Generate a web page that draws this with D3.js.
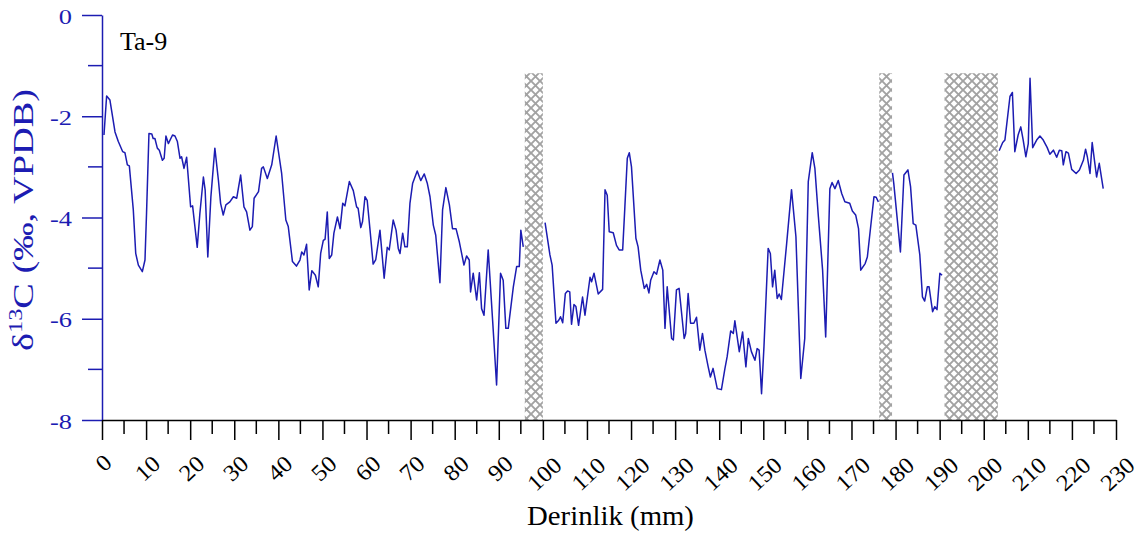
<!DOCTYPE html>
<html>
<head>
<meta charset="utf-8">
<script src="https://cdn.jsdelivr.net/npm/d3@7"></script>
<style>
  body { margin: 0; background: #fff; }
  svg { display: block; }
</style>
</head>
<body>
<div id="chart"></div>
<script>
// depth (mm) and d13C values, null = break in the record (hatched gap)
const depthMm = [
    0.45, 1.05, 1.8, 2.95, 3.7, 4.7, 5.2, 5.75, 6.2, 7.1, 7.65, 8.25, 9.15, 9.75,
    10.1, 10.65, 11.3, 11.6, 12.0, 12.55, 13.0, 13.7, 14.1, 14.5, 15.05, 16.0, 16.55,
    17.1, 17.7, 18.05, 18.6, 19.2, 20.1, 20.55, 21.6, 22.2, 23.0, 23.4, 24.0, 24.7,
    25.6, 26.4, 26.9, 27.5, 28.1, 29.0, 29.8, 30.55, 31.45, 32.2, 32.8, 33.55, 34.1,
    34.5, 35.5, 36.2, 36.6, 37.5, 38.5, 39.5, 40.75, 41.7, 42.25, 43.2, 44.1, 44.9,
    45.3, 45.8, 46.4, 47.0, 47.6, 48.4, 49.05, 49.6, 50.2, 50.6, 51.1, 51.55, 52.1,
    52.6, 53.4, 54.0, 54.6, 55.1, 56.1, 57.0, 57.75, 58.1, 58.7, 59.1, 59.65, 60.15,
    60.8, 61.5, 62.1, 63.05, 64.0, 64.7, 65.15, 66.05, 66.7, 67.2, 67.6, 68.2, 68.7,
    69.25, 69.85, 70.45, 71.5, 72.3, 73.1, 73.8, 74.4, 75.15, 75.7, 76.65, 77.25,
    78.0, 78.8, 79.5, 80.3, 81.05, 82.1, 82.7, 83.3, 83.6, 84.2, 84.98, 85.6, 86.1,
    86.65, 87.6, 88.6, 89.5, 90.4, 91.0, 91.6, 92.15, 93.3, 94.05, 94.65, 95.0, 95.55,
    null,
    100.5, 101.6, 102.1, 102.97, 103.6, 104.0, 104.5, 105.1, 105.6, 106.1, 106.5,
    107.05, 107.5, 108.1, 109.0, 109.55, 110.7, 111.05, 111.6, 112.55, 113.55, 114.1,
    114.6, 115.05, 115.96, 116.7, 117.3, 118.1, 118.6, 119.15, 119.6, 120.1, 121.1,
    121.6, 122.2, 123.0, 123.55, 124.05, 124.45, 125.2, 125.8, 126.55, 127.2, 127.7,
    128.2, 129.2, 129.6, 130.3, 130.9, 132.05, 132.4, 132.95, 133.5, 134.25, 134.85,
    135.6, 136.2, 136.75, 137.5, 138.0, 138.6, 139.55, 140.5, 141.3, 141.8, 142.6,
    143.2, 143.55, 144.55, 145.3, 146.05, 146.6, 147.3, 148.1, 148.6, 149.05, 149.6,
    150.15, 151.1, 151.6, 152.1, 152.6, 153.15, 153.6, 154.1, 155.3, 156.4, 157.4,
    158.5, 159.4, 160.2, 161.1, 161.7, 162.5, 163.45, 164.15, 165.1, 165.6, 166.25,
    167.0, 167.8, 168.5, 169.6, 170.2, 170.95, 171.6, 172.1, 173.1, 173.6, 175.1,
    175.6, 176.1,
    null,
    179.3, 179.6, 181.1, 181.9, 182.8, 183.4, 184.0, 184.6, 185.5, 186.1, 186.6,
    187.2, 187.6, 188.4, 188.9, 189.4, 190.05, 190.55,
    null,
    203.5, 204.3, 204.8, 205.95, 206.5, 207.05, 207.8, 208.4, 208.95, 209.55, 210.1,
    210.5, 211.1, 212.0, 212.75, 213.5, 214.4, 215.0, 215.8, 216.55, 217.15, 217.7,
    218.05, 218.65, 219.2, 219.95, 220.95, 221.7, 222.6, 223.1, 223.5, 224.1, 224.6,
    225.2, 225.6, 226.2, 227.1
];

const d13C = [
    -2.37, -1.60, -1.68, -2.31, -2.50, -2.70, -2.72, -2.96, -2.98, -3.85, -4.71, -4.94, -5.07, -4.84,
    -3.92, -2.34, -2.35, -2.44, -2.44, -2.63, -2.67, -2.87, -2.83, -2.39, -2.54, -2.37, -2.39,
    -2.50, -2.83, -2.80, -3.03, -2.81, -3.79, -3.77, -4.59, -3.92, -3.20, -3.46, -4.78, -3.59,
    -2.63, -3.26, -3.72, -3.95, -3.75, -3.69, -3.59, -3.62, -3.16, -3.79, -3.89, -4.25, -4.18,
    -3.62, -3.49, -3.03, -3.00, -3.23, -2.96, -2.39, -3.13, -4.05, -4.18, -4.87, -4.96, -4.84,
    -4.68, -4.74, -4.53, -5.43, -5.05, -5.14, -5.37, -4.71, -4.45, -4.43, -3.89, -4.81, -4.74,
    -4.31, -3.99, -4.22, -3.72, -3.77, -3.29, -3.47, -3.79, -3.82, -4.20, -4.08, -3.59, -3.66,
    -4.25, -4.92, -4.83, -4.25, -5.20, -4.59, -4.64, -4.05, -4.25, -4.61, -4.71, -4.31, -4.58,
    -4.58, -3.72, -3.33, -3.08, -3.27, -3.14, -3.33, -3.59, -4.15, -4.35, -5.29, -3.85,
    -3.41, -3.75, -4.22, -4.22, -4.48, -4.94, -4.76, -4.84, -5.47, -5.10, -5.63, -5.09, -5.80,
    -5.93, -4.64, -6.03, -7.31, -5.10, -5.24, -6.19, -6.19, -5.37, -4.97, -4.97, -4.25, -4.58,
    null,
    -4.10, -4.74, -4.94, -6.09, -6.03, -5.96, -6.08, -5.50, -5.45, -5.47, -6.11,
    -5.72, -5.76, -6.13, -5.57, -5.93, -5.18, -5.27, -5.10, -5.51, -5.42, -3.45,
    -3.56, -4.28, -4.30, -4.55, -4.64, -4.64, -3.79, -2.83, -2.72, -3.00, -4.41,
    -4.58, -5.04, -5.40, -5.32, -5.49, -5.24, -5.07, -5.12, -4.84, -5.04, -6.19,
    -5.37, -6.39, -6.42, -5.43, -5.40, -6.39, -6.29, -5.50, -6.09, -6.09, -5.97,
    -6.62, -6.29, -6.62, -6.95, -7.15, -6.98, -7.38, -7.40, -6.98, -6.75, -6.24,
    -6.29, -6.04, -6.65, -6.26, -6.95, -6.39, -6.65, -6.82, -6.59, -6.62, -7.48,
    -6.55, -4.61, -4.71, -5.37, -5.04, -5.60, -5.51, -5.62, -4.51, -3.45, -4.38,
    -7.18, -6.39, -3.29, -2.72, -3.03, -3.99, -5.04, -6.36, -3.43, -3.31, -3.43,
    -3.27, -3.53, -3.69, -3.72, -3.87, -3.95, -4.22, -5.04, -4.91, -4.78, -3.59,
    -3.60, -3.69,
    null,
    -3.12, -3.33, -4.68, -3.16, -3.06, -3.39, -4.12, -4.15, -4.74, -5.57, -5.65,
    -5.37, -5.37, -5.86, -5.76, -5.82, -5.10, -5.14,
    null,
    -2.68, -2.52, -2.47, -1.61, -1.53, -2.70, -2.37, -2.21, -2.47, -2.80, -2.54,
    -1.25, -2.62, -2.47, -2.39, -2.47, -2.62, -2.75, -2.67, -2.81, -2.67, -2.68,
    -2.96, -2.70, -2.73, -3.05, -3.13, -3.06, -2.87, -2.65, -2.80, -3.13, -2.52,
    -2.93, -3.20, -2.93, -3.43
];

// hatched gaps (mm)
const gapStart = [95.9, 176.3, 191.1];
const gapEnd = [100.0, 179.2, 203.2];
const gapTop = -1.15;

const xMajorTicks = d3.range(0, 231, 10);
const xMinorTicks = d3.range(5, 230, 10);
const yMajorTicks = [0, -2, -4, -6, -8];
const yMinorTicks = [-1, -3, -5, -7];

const sampleName = 'Ta-9';
const xTitle = 'Derinlik (mm)';

const blue = '#1c1cb2';
const serif = 'Liberation Serif';

const width = 1146;
const height = 537;
const margin = { top: 15, left: 102, right: 30, bottom: 117 };

const x = d3.scaleLinear().domain([0, 230]).range([margin.left, width - margin.right]);
const y = d3.scaleLinear().domain([-8, 0]).range([height - margin.bottom, margin.top]);

const svg = d3.select('#chart').append('svg')
    .attr('width', width)
    .attr('height', height);

// cross hatch pattern for gaps
const pattern = svg.append('defs').append('pattern')
    .attr('id', 'hatch')
    .attr('patternUnits', 'userSpaceOnUse')
    .attr('width', 9)
    .attr('height', 9);
pattern.append('rect').attr('width', 9).attr('height', 9).attr('fill', '#fff');
pattern.append('path')
    .attr('d', 'M-1,-1L10,10M10,-1L-1,10')
    .attr('stroke', '#a2a2a2')
    .attr('stroke-width', 1.9);

const bands = gapStart.map((s, i) => ({ start: s, end: gapEnd[i] }));
svg.append('g').selectAll('rect')
    .data(bands)
    .enter().append('rect')
        .attr('x', d => x(d.start))
        .attr('width', d => x(d.end) - x(d.start))
        .attr('y', y(gapTop))
        .attr('height', y(-8) - y(gapTop))
        .attr('fill', 'url(#hatch)');

// the record
const points = depthMm.map((d, i) => ({ depth: d, value: d13C[i] }));
const line = d3.line()
    .defined(d => d.depth !== null && d.value !== null)
    .x(d => x(d.depth))
    .y(d => y(d.value));
svg.append('path')
    .datum(points)
    .attr('d', line)
    .attr('fill', 'none')
    .attr('stroke', blue)
    .attr('stroke-width', 1.5)
    .attr('stroke-linejoin', 'round');

// y axis
const yAxis = svg.append('g')
    .attr('transform', `translate(${margin.left},0)`)
    .call(d3.axisLeft(y).tickValues(yMajorTicks).tickSize(20).tickSizeOuter(0)
        .tickFormat(d => String(d)));
yAxis.select('.domain').attr('stroke', blue).attr('stroke-width', 1.5);
yAxis.selectAll('.tick line').attr('stroke', blue).attr('stroke-width', 1.5);
yAxis.selectAll('.tick text')
    .attr('x', null).attr('dy', null)
    .attr('transform', 'translate(-30,8) scale(1.2,1)')
    .attr('fill', blue)
    .attr('font-family', serif)
    .attr('font-size', 22);
svg.append('g').selectAll('line')
    .data(yMinorTicks)
    .enter().append('line')
        .attr('x1', margin.left - 14).attr('x2', margin.left)
        .attr('y1', d => y(d)).attr('y2', d => y(d))
        .attr('stroke', blue).attr('stroke-width', 1.5);

// x axis
const xAxis = svg.append('g')
    .attr('transform', `translate(0,${y(-8)})`)
    .call(d3.axisBottom(x).tickValues(xMajorTicks).tickSize(20).tickSizeOuter(0)
        .tickFormat(''));
xAxis.select('.domain').attr('stroke', '#000').attr('stroke-width', 1.5);
xAxis.selectAll('.tick line').attr('stroke', '#000').attr('stroke-width', 1.5);
svg.append('g').selectAll('line')
    .data(xMinorTicks)
    .enter().append('line')
        .attr('x1', d => x(d)).attr('x2', d => x(d))
        .attr('y1', y(-8)).attr('y2', y(-8) + 14)
        .attr('stroke', '#000').attr('stroke-width', 1.5);

// rotated tick labels
svg.append('g').selectAll('text')
    .data(xMajorTicks)
    .enter().append('text')
        .attr('transform', d =>
            `translate(${x(d) + 1.5},${457.5 + 5.5 * String(d).length}) rotate(-43) scale(1.08,1)`)
        .attr('text-anchor', 'middle')
        .attr('dominant-baseline', 'central')
        .attr('font-family', serif)
        .attr('font-size', 23)
        .attr('fill', '#000')
        .text(d => d);

// stretch factor so a text element reaches a target length
const fitLength = (sel, target) => target / sel.node().getComputedTextLength();

const xt = svg.append('text')
    .attr('text-anchor', 'middle')
    .attr('font-family', serif)
    .attr('font-size', 27)
    .attr('fill', '#000')
    .text(xTitle);
xt.attr('transform', `translate(610.5,525) scale(${fitLength(xt, 167)},1)`);

const yt = svg.append('text')
    .attr('text-anchor', 'middle')
    .attr('font-family', serif)
    .attr('font-size', 30)
    .attr('fill', blue);
yt.append('tspan').text('δ');
yt.append('tspan').attr('font-size', 19).attr('dy', -11).text('13');
yt.append('tspan').attr('dy', 11).text('C (‰, VPDB)');
yt.attr('transform', `translate(33,220) rotate(-90) scale(${fitLength(yt, 262)},1)`);

svg.append('text')
    .attr('x', 120)
    .attr('y', 50)
    .attr('font-family', serif)
    .attr('font-size', 26)
    .attr('fill', '#000')
    .text(sampleName);
</script>
</body>
</html>
